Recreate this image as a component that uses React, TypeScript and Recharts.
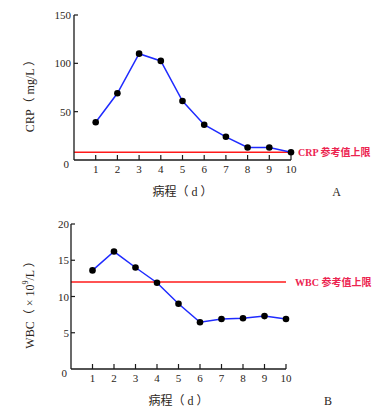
import React from "react";
import { LineChart, Line, XAxis, YAxis, ReferenceLine, Label } from "recharts";

// ── Data ──────────────────────────────────────────────────────────────────────

const DAYS = [1, 2, 3, 4, 5, 6, 7, 8, 9, 10];
const CRP = [39, 69, 110, 102.5, 61, 36.5, 24, 13, 13, 8];
const WBC = [13.6, 16.2, 14.0, 11.9, 9.0, 6.45, 6.9, 7.0, 7.3, 6.9];
const CRP_TICKS = [0, 50, 100, 150];
const WBC_TICKS = [0, 5, 10, 15, 20];
const CRP_LIMIT = 8;
const WBC_LIMIT = 12;

const crpData = DAYS.map((d, i) => ({ day: d, value: CRP[i] }));
const wbcData = DAYS.map((d, i) => ({ day: d, value: WBC[i] }));

// ── Styles ────────────────────────────────────────────────────────────────────

const FONT = '"Liberation Serif", "Noto Sans CJK SC", serif';
const INK = "#2b2520";
const AXIS = "#1a1a1a";
const BLUE = "#1f2bff";
const RED = "#ff1a1a";
const RED_TEXT = "#ec2450";

// ── Custom ticks (inward tick marks, like the print figure) ─────────────────

function XTick({ x, y, payload }: any) {
  return (
    <g>
      <line x1={x} x2={x} y1={y} y2={y - 5} stroke={AXIS} strokeWidth={1.2} />
      <text x={x} y={y + 13} textAnchor="middle" fontSize={11} fontFamily={FONT} fill={INK}>
        {payload.value}
      </text>
    </g>
  );
}

function makeYTick(gap: number) {
  return function YTick({ x, y, payload }: any) {
    const zero = payload.value === 0;
    return (
      <g>
        {!zero && <line x1={x} x2={x + 4} y1={y} y2={y} stroke={AXIS} strokeWidth={1.2} />}
        <text
          x={zero ? x - gap - 2 : x - gap}
          y={zero ? y + 8 : y + 4}
          textAnchor="end"
          fontSize={11}
          fontFamily={FONT}
          fill={INK}
        >
          {payload.value}
        </text>
      </g>
    );
  };
}

const CrpYTick = makeYTick(3);
const WbcYTick = makeYTick(2);

// ── Titles ────────────────────────────────────────────────────────────────────

function XTitle({ viewBox, letter, letterX }: any) {
  const cx = viewBox.x + viewBox.width / 2;
  const by = viewBox.y + 36;
  return (
    <g fontFamily={FONT} fill={INK}>
      <text x={cx} y={by} textAnchor="middle" fontSize={12}>
        病程（ d ）
      </text>
      <text x={letterX} y={by} textAnchor="middle" fontSize={12}>
        {letter}
      </text>
    </g>
  );
}

function CrpYTitle() {
  return (
    <text
      x={30}
      y={93}
      transform="rotate(-90 30 93)"
      textAnchor="middle"
      dominantBaseline="central"
      fontSize={12}
      fontFamily={FONT}
      fill={INK}
    >
      CRP（ mg/L ）
    </text>
  );
}

function WbcYTitle() {
  return (
    <text
      x={30}
      y={102}
      transform="rotate(-90 30 102)"
      textAnchor="middle"
      dominantBaseline="central"
      fontSize={12}
      fontFamily={FONT}
      fill={INK}
    >
      WBC（ × 10<tspan fontSize={8} dy={-5}>9</tspan>
      <tspan dy={5}>/L ）</tspan>
    </text>
  );
}

// ── Main export ───────────────────────────────────────────────────────────────

export default function App() {
  return (
    <div style={{ position: "absolute", left: 0, top: 0, width: 380, height: 411, background: "#fff" }}>
      {/* A: CRP */}
      <LineChart width={380} height={200} data={crpData} margin={{ top: 15, right: 89, bottom: 0, left: 0 }}>
        <XAxis
          dataKey="day"
          type="number"
          domain={[0, 10]}
          ticks={DAYS}
          height={40}
          tickSize={0}
          tickMargin={0}
          tickLine={false}
          axisLine={{ stroke: AXIS, strokeWidth: 1.3 }}
          tick={<XTick />}
          interval={0}
        >
          <Label content={(p: any) => <XTitle {...p} letter="A" letterX={336.5} />} />
        </XAxis>
        <YAxis
          domain={[0, 150]}
          ticks={CRP_TICKS}
          width={74}
          tickSize={0}
          tickMargin={0}
          tickLine={false}
          axisLine={{ stroke: AXIS, strokeWidth: 1.3 }}
          tick={<CrpYTick />}
          interval={0}
        >
          <Label content={() => <CrpYTitle />} />
        </YAxis>
        <ReferenceLine
          y={CRP_LIMIT}
          stroke={RED}
          strokeWidth={1.5}
          label={{
            value: "CRP 参考值上限",
            position: "right",
            offset: 7,
            fill: RED_TEXT,
            fontSize: 10,
            fontFamily: FONT,
            fontWeight: "bold",
          }}
        />
        <Line
          dataKey="value"
          stroke={BLUE}
          strokeWidth={1.5}
          dot={{ r: 3.3, fill: "#000", stroke: "#000", strokeWidth: 0 }}
          isAnimationActive={false}
        />
      </LineChart>

      {/* B: WBC */}
      <LineChart width={380} height={211} data={wbcData} margin={{ top: 24, right: 94, bottom: 0, left: 0 }}>
        <XAxis
          dataKey="day"
          type="number"
          domain={[0, 10]}
          ticks={DAYS}
          height={42}
          tickSize={0}
          tickMargin={0}
          tickLine={false}
          axisLine={{ stroke: AXIS, strokeWidth: 1.3 }}
          tick={<XTick />}
          interval={0}
        >
          <Label content={(p: any) => <XTitle {...p} letter="B" letterX={328} />} />
        </XAxis>
        <YAxis
          domain={[0, 20]}
          ticks={WBC_TICKS}
          width={71}
          tickSize={0}
          tickMargin={0}
          tickLine={false}
          axisLine={{ stroke: AXIS, strokeWidth: 1.3 }}
          tick={<WbcYTick />}
          interval={0}
        >
          <Label content={() => <WbcYTitle />} />
        </YAxis>
        <ReferenceLine
          y={WBC_LIMIT}
          stroke={RED}
          strokeWidth={1.5}
          label={{
            value: "WBC 参考值上限",
            position: "right",
            offset: 9,
            fill: RED_TEXT,
            fontSize: 10,
            fontFamily: FONT,
            fontWeight: "bold",
          }}
        />
        <Line
          dataKey="value"
          stroke={BLUE}
          strokeWidth={1.5}
          dot={{ r: 3.3, fill: "#000", stroke: "#000", strokeWidth: 0 }}
          isAnimationActive={false}
        />
      </LineChart>
    </div>
  );
}
